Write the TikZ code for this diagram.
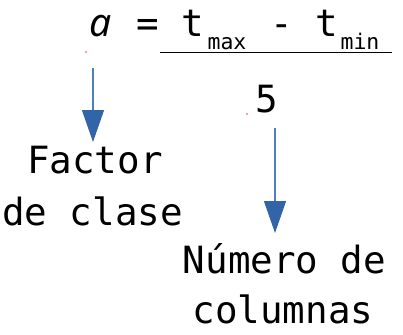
\documentclass[tikz,border=0pt]{standalone}
\usepackage{fontspec}
\setmonofont{DejaVu Sans Mono}
\newfontfamily\itfont{Noto Sans}
\usetikzlibrary{arrows.meta}
\definecolor{lineblue}{HTML}{4F7DC0}
\definecolor{headblue}{HTML}{3264A8}
\tikzset{
  big/.style={inner sep=0pt, anchor=base, font=\ttfamily\fontsize{37.5}{45}\selectfont},
  small/.style={inner sep=0pt, anchor=base, font=\ttfamily\fontsize{21.5}{26}\selectfont},
  label/.style={inner sep=0pt, anchor=base, font=\ttfamily\fontsize{37.5}{45}\selectfont},
  arr/.style={draw=lineblue, line width=1.3pt, -{Triangle[width=22pt,length=32pt,color=headblue]}},
  reddot/.style={fill=red!80, draw=none}
}
\begin{document}
\begin{tikzpicture}[x=1pt,y=-1pt]
\useasboundingbox (0,0) rectangle (403,334);
% equation
\node[big, font=\itfont\itshape\fontsize{39}{45}\selectfont] (eqa) at (101,37) {a};
\node[big] (eqeq) at (147.5,37) {=};
\node[big] (t1) at (193,37) {t};
\node[small] (smax) at (227,50) {max};
\node[big] (minus) at (281.5,37) {-};
\node[big] (t2) at (327,37) {t};
\node[small] (smin) at (360,50) {min};
\coordinate (barL) at (160,52.5);
\coordinate (barR) at (392,52.5);
\draw[line width=1.3pt] (barL) -- (barR);
\node[big] (five) at (267,112) {5};
% labels
\node[label] (factor) at (95,173) {Factor};
\node[label] (declase) at (92.5,225) {de clase};
\node[label] (numero) at (284.5,273) {Número de};
\node[label] (columnas) at (283,323) {columnas};
% arrows
\coordinate (aStart) at (93,68);
\coordinate (aEnd) at (93,142);
\coordinate (bStart) at (275,128);
\coordinate (bEnd) at (275,233);
\draw[arr] (aStart) -- (aEnd);
\draw[arr] (bStart) -- (bEnd);
% small red marks
\fill[reddot] (86,52) circle (0.8);
\fill[reddot] (247,114) circle (0.8);
\end{tikzpicture}
\end{document}
